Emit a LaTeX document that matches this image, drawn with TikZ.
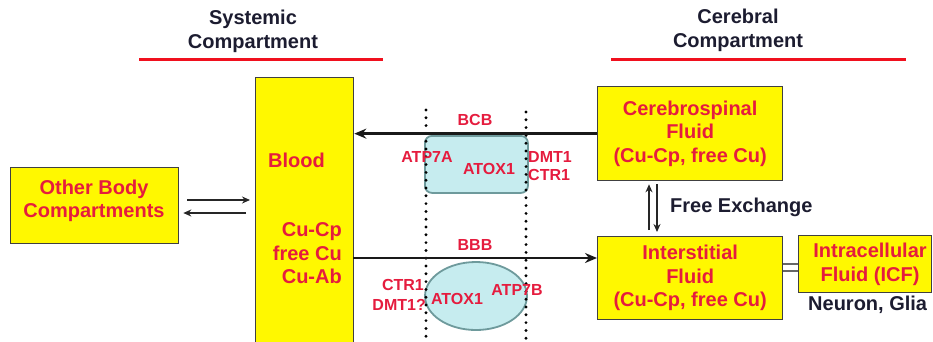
\documentclass[tikz,border=0pt]{standalone}
\usepackage{fontspec}
\setmainfont{Liberation Sans}
\usetikzlibrary{arrows.meta,shapes.geometric}
\definecolor{cred}{HTML}{E51C3E}
\definecolor{cline}{HTML}{F0101E}
\definecolor{cyel}{HTML}{FFF800}
\definecolor{ccyan}{HTML}{C6ECEF}
\definecolor{cteal}{HTML}{6E9A9C}
\definecolor{cnavy}{HTML}{1C1C30}
\begin{document}
\begin{tikzpicture}[x=1pt,y=-1pt,
  box/.style={draw=black!75,line width=1.3pt,fill=cyel,inner sep=0pt,anchor=north west},
  redtxt/.style={text=cred,font=\fontsize{20}{23.5}\selectfont\bfseries,align=center,inner sep=0pt},
  lbl/.style={text=cred,font=\fontsize{16}{20}\selectfont\bfseries,inner sep=0pt},
  ttl/.style={text=cnavy,font=\fontsize{20}{24}\selectfont\bfseries,align=center,inner sep=0pt},
  redrule/.style={draw=cline,line width=3pt},
  bigarrow/.style={draw=black!90,line width=2.8pt,-{Stealth[length=12pt,width=10pt]}},
  thinarrow/.style={draw=black!85,line width=1.5pt,-{Stealth[length=8pt,width=7pt]}},
  dotmark/.style={fill=black},
  cyanshape/.style={fill=ccyan,draw=cteal,line width=1.8pt}]
\useasboundingbox (0,0) rectangle (933,341);
\clip (0,0) rectangle (933,341);

% titles
\node[ttl] (systitle) at (253,31) {Systemic\\Compartment};
\node[ttl] (cerTitle) at (738,30) {Cerebral\\Compartment};
\coordinate (r1a) at (139,59); \coordinate (r1b) at (383,59);
\coordinate (r2a) at (611,59); \coordinate (r2b) at (906,59);
\draw[redrule] (r1a) -- (r1b);
\draw[redrule] (r2a) -- (r2b);

% boxes
\node[box,minimum width=168pt,minimum height=76pt] (other) at (10,167) {};
\node[redtxt] (othertxt) at (94,201) {Other Body\\Compartments};
\node[box,minimum width=98pt,minimum height=300pt] (blood) at (255,77) {};
\node[box,minimum width=185pt,minimum height=94pt] (csf) at (597,86) {};
\node[redtxt] (csftxt) at (csf.center) {Cerebrospinal\\Fluid\\(Cu-Cp, free Cu)};
\node[box,minimum width=185pt,minimum height=83pt] (inter) at (597,236) {};
\node[redtxt] (intertxt) at (inter.center) {Interstitial\\Fluid\\(Cu-Cp, free Cu)};
\node[box,minimum width=133pt,minimum height=57pt] (icf) at (798,235) {};
\node[redtxt] (icftxt) at (870,264.5) {Intracellular\\Fluid (ICF)};

% blood texts
\node[redtxt,anchor=west] (bloodtxt) at (268,160) {Blood};
\node[redtxt,align=right,anchor=east] (cutxt) at (342,253.5) {Cu-Cp\\free Cu\\Cu-Ab};

% barrier shapes
\node[cyanshape,rounded corners=7pt,minimum width=103pt,minimum height=57pt,anchor=north west,inner sep=0pt] (bcbcell) at (424,135) {};
\node[cyanshape,ellipse,minimum width=102pt,minimum height=68pt,inner sep=0pt] (bbbcell) at (476,296) {};

% dotted barrier lines
\foreach \yy in {110,117.8,...,345} {
  \fill[dotmark] (426,\yy) circle (1.6pt);
}
\foreach \yy in {112,119.8,...,345} {
  \fill[dotmark] (526,\yy) circle (1.6pt);
}

% main arrows
\draw[bigarrow] (csf.west) -- (csf.west -| blood.east);
\coordinate (bbbstart) at (353,258);
\draw[bigarrow] (bbbstart) -- (bbbstart -| inter.west);

% other body exchange
\draw[thinarrow,shorten <=8pt,shorten >=5pt] (other.east |- 0,200) -- (blood.west |- 0,200);
\draw[thinarrow,shorten <=9pt,shorten >=4pt] (blood.west |- 0,213) -- (other.east |- 0,213);

% free exchange
\draw[thinarrow,shorten <=6pt,shorten >=3pt] (649,0 |- inter.north) -- (649,0 |- csf.south);
\draw[thinarrow,shorten <=3pt,shorten >=4pt] (657,0 |- csf.south) -- (657,0 |- inter.north);
\node[ttl,anchor=west] (fx) at (670,207) {Free Exchange};

% ICF link
\draw[draw=black!60,line width=1.5pt] (inter.east |- 0,264) -- (icf.west |- 0,264);
\draw[draw=black!60,line width=1.5pt] (inter.east |- 0,271) -- (icf.west |- 0,271);
\node[ttl,anchor=west] (neuron) at (808,305) {Neuron, Glia};

% labels
\node[lbl] (bcb) at (475,120) {BCB};
\node[lbl] (atp7a) at (427,157) {ATP7A};
\node[lbl] (atox1a) at (489,169) {ATOX1};
\node[lbl,anchor=west] (dmt1a) at (528,157) {DMT1};
\node[lbl,anchor=west] (ctr1a) at (528,175) {CTR1};
\node[lbl] (bbb) at (475,245) {BBB};
\node[lbl,anchor=east] (ctr1b) at (424,285) {CTR1};
\node[lbl,anchor=east] (dmt1b) at (426,305) {DMT1?};
\node[lbl] (atox1b) at (457,299) {ATOX1};
\node[lbl] (atp7b) at (517,290) {ATP7B};
\end{tikzpicture}
\end{document}
